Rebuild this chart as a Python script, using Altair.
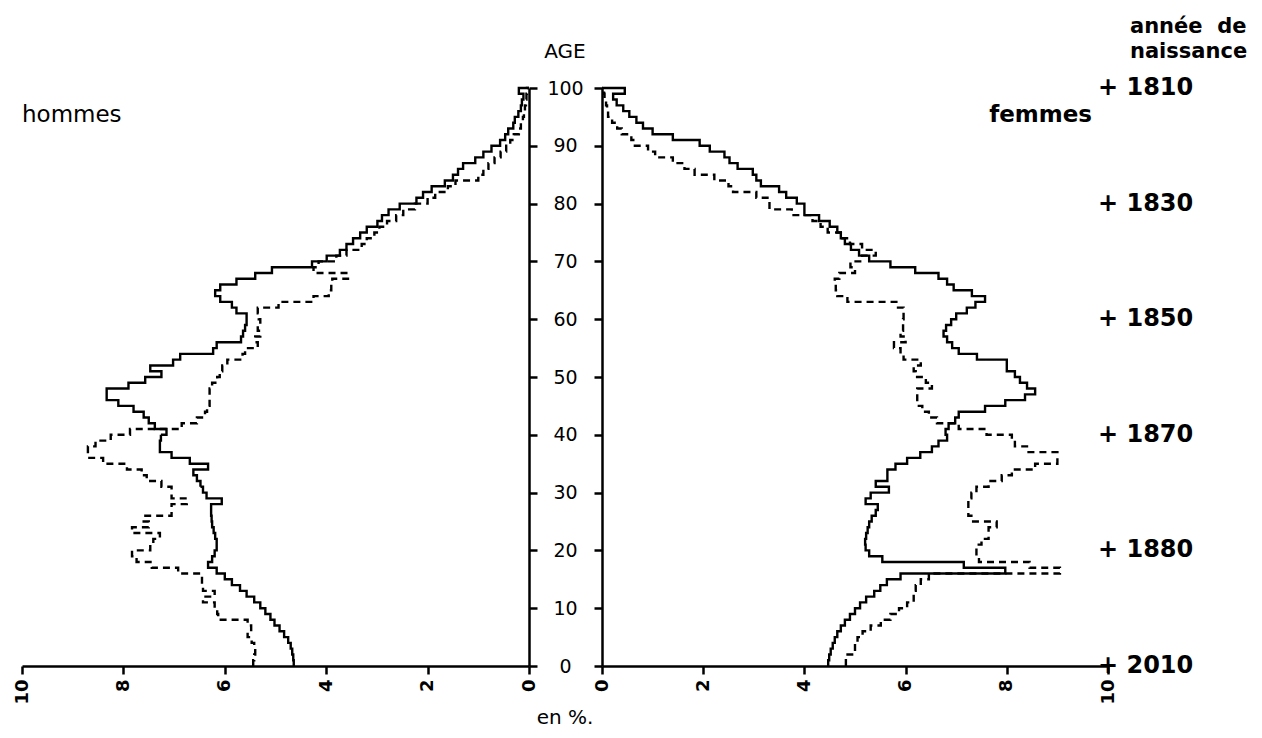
import altair as alt
import pandas as pd

# ---------------- data ----------------
ages = list(range(0, 101))

hommes_trait = [4.64, 4.65, 4.67, 4.70, 4.75, 4.83, 4.92, 5.02, 5.10, 5.20,
                5.30, 5.42, 5.57, 5.70, 5.86, 6.00, 6.16, 6.33, 6.25, 6.20,
                6.16, 6.16, 6.19, 6.22, 6.25, 6.26, 6.27, 6.27, 6.06, 6.36,
                6.43, 6.48, 6.55, 6.62, 6.33, 6.69, 7.05, 7.28, 7.28, 7.26,
                7.15, 7.38, 7.50, 7.60, 7.80, 8.10, 8.33, 8.33, 7.90, 7.57,
                7.25, 7.47, 7.02, 6.88, 6.23, 6.16, 5.68, 5.64, 5.60, 5.57,
                5.57, 5.77, 5.86, 6.09, 6.19, 6.09, 5.77, 5.40, 5.07, 4.28,
                3.99, 3.73, 3.60, 3.47, 3.33, 3.20, 2.99, 2.90, 2.77, 2.55,
                2.22, 2.09, 1.92, 1.66, 1.50, 1.40, 1.30, 1.06, 0.90, 0.74,
                0.57, 0.47, 0.41, 0.31, 0.28, 0.21, 0.16, 0.14, 0.11, 0.20, 0.0]

hommes_tirets = [5.44, 5.42, 5.40, 5.42, 5.47, 5.55, 5.48, 5.55, 6.13, 6.15,
                 6.20, 6.43, 6.20, 6.43, 6.45, 6.45, 6.92, 7.44, 7.74, 7.83,
                 7.47, 7.41, 7.28, 7.83, 7.50, 7.60, 7.05, 7.05, 6.75, 7.05,
                 7.05, 7.25, 7.54, 7.64, 7.93, 8.40, 8.70, 8.70, 8.55, 8.25,
                 7.87, 6.85, 6.55, 6.39, 6.35, 6.30, 6.30, 6.30, 6.25, 6.15,
                 6.10, 6.05, 5.95, 5.65, 5.60, 5.35, 5.40, 5.30, 5.35, 5.30,
                 5.33, 5.35, 4.94, 4.25, 3.95, 3.90, 3.88, 3.57, 4.25, 4.15,
                 3.80, 3.60, 3.30, 3.20, 3.05, 2.95, 2.80, 2.62, 2.48, 2.25,
                 2.00, 1.85, 1.60, 1.45, 1.00, 0.90, 0.80, 0.68, 0.56, 0.45,
                 0.37, 0.30, 0.20, 0.16, 0.12, 0.10, 0.08, 0.06, 0.05, 0.04, 0.0]

femmes_trait = [4.47, 4.49, 4.52, 4.56, 4.60, 4.65, 4.72, 4.80, 4.90, 5.00,
                5.10, 5.22, 5.38, 5.50, 5.63, 5.90, 7.97, 7.15, 5.54, 5.28,
                5.21, 5.20, 5.22, 5.25, 5.28, 5.33, 5.41, 5.45, 5.21, 5.31,
                5.67, 5.41, 5.64, 5.64, 5.80, 6.03, 6.29, 6.52, 6.65, 6.82,
                6.79, 6.85, 6.98, 7.05, 7.57, 7.97, 8.36, 8.56, 8.40, 8.26,
                8.16, 8.00, 8.00, 7.41, 7.05, 6.92, 6.82, 6.75, 6.80, 6.90,
                7.00, 7.21, 7.38, 7.57, 7.31, 6.95, 6.82, 6.65, 6.19, 5.70,
                5.28, 5.08, 4.92, 4.80, 4.72, 4.65, 4.50, 4.29, 4.00, 4.00,
                3.85, 3.64, 3.50, 3.14, 3.05, 2.98, 2.68, 2.52, 2.42, 2.13,
                1.93, 1.40, 1.00, 0.81, 0.68, 0.54, 0.42, 0.29, 0.22, 0.45, 0.0]

femmes_tirets = [4.82, 4.82, 5.00, 5.00, 5.05, 5.15, 5.31, 5.51, 5.70, 5.87,
                 6.03, 6.16, 6.16, 6.20, 6.30, 6.46, 9.05, 8.45, 7.45, 7.40,
                 7.40, 7.50, 7.64, 7.64, 7.80, 7.30, 7.24, 7.24, 7.24, 7.30,
                 7.40, 7.64, 7.90, 8.10, 8.56, 9.00, 9.00, 8.43, 8.16, 8.10,
                 7.60, 7.05, 6.62, 6.46, 6.33, 6.23, 6.23, 6.23, 6.52, 6.40,
                 6.20, 6.16, 6.30, 5.96, 5.90, 5.77, 6.00, 5.90, 5.95, 5.95,
                 5.96, 5.96, 5.85, 4.85, 4.65, 4.62, 4.60, 4.69, 5.00, 4.91,
                 5.14, 5.41, 5.14, 4.90, 4.72, 4.46, 4.32, 4.16, 3.75, 3.31,
                 3.31, 3.05, 2.59, 2.50, 2.22, 1.83, 1.63, 1.40, 1.05, 0.91,
                 0.65, 0.58, 0.39, 0.30, 0.20, 0.12, 0.10, 0.08, 0.05, 0.04, 0.0]

pct_ticks = [0, 2, 4, 6, 8, 10]
age_ticks = [0, 10, 20, 30, 40, 50, 60, 70, 80, 90, 100]
annee_labels = ["+ 1810", "+ 1830", "+ 1850", "+ 1870", "+ 1880", "+ 2010"]
annee_ages = [100, 80, 60, 40, 20, 0]
series = ["trait", "tirets"]

# ---------------- tables ----------------
men = pd.DataFrame({"age": ages * 2, "pct": hommes_trait + hommes_tirets,
                    "serie": [series[0]] * 101 + [series[1]] * 101})
women = pd.DataFrame({"age": ages * 2, "pct": femmes_trait + femmes_tirets,
                      "serie": [series[0]] * 101 + [series[1]] * 101})
years = pd.DataFrame({"age": annee_ages, "label": annee_labels})

# ---------------- layout ----------------
W, H = 1086, 578
MEN_ZERO = 507
WOMEN_ZERO = 580
FONT = "DejaVu Sans"

y_scale = alt.Scale(domain=[0, 100], nice=False)
men_x = alt.Scale(domain=[0, 10], range=[MEN_ZERO, 0], nice=False)
women_x = alt.Scale(domain=[0, 10], range=[WOMEN_ZERO, W], nice=False)
dash_scale = alt.Scale(domain=series, range=[[1, 0], [7, 5]])

x_axis = dict(orient="bottom", values=pct_ticks, format="d", labelAngle=270,
              labelFontSize=18, labelFont=FONT, labelFontWeight="bold",
              labelColor="black", labelPadding=5, labelFlush=False,
              labelOverlap=False, tickSize=8, tickWidth=2.5, tickColor="black",
              domainWidth=2.5, domainColor="black", grid=False, title=None)

men_y_axis = alt.Axis(orient="right", offset=-(W - MEN_ZERO), values=age_ticks,
                      format="d", tickSize=8, tickWidth=2.5, tickColor="black",
                      domainWidth=2.5, domainColor="black",
                      labelAlign="center", labelBaseline="middle", labelPadding=28,
                      labelFontSize=19, labelFont=FONT, labelColor="black",
                      labelFlush=False, grid=False, title=None)
women_y_axis = alt.Axis(orient="left", offset=-WOMEN_ZERO, values=age_ticks,
                        tickSize=8, tickWidth=2.5, tickColor="black",
                        domainWidth=2.5, domainColor="black", labels=False,
                        grid=False, title=None)

men_layer = alt.Chart(men).mark_line(interpolate="step-before", color="black",
                                     strokeWidth=2.4).encode(
    x=alt.X("pct:Q", scale=men_x, axis=alt.Axis(**x_axis)),
    y=alt.Y("age:Q", scale=y_scale, axis=men_y_axis),
    strokeDash=alt.StrokeDash("serie:N", scale=dash_scale, legend=None),
    order=alt.Order("age:Q"),
)

women_lines = alt.Chart(women).mark_line(interpolate="step-before", color="black",
                                         strokeWidth=2.4).encode(
    x=alt.X("pct:Q", scale=women_x, axis=alt.Axis(**x_axis)),
    y=alt.Y("age:Q", scale=y_scale, axis=women_y_axis),
    strokeDash=alt.StrokeDash("serie:N", scale=dash_scale, legend=None),
    order=alt.Order("age:Q"),
)

year_text = alt.Chart(years).mark_text(align="left", baseline="middle", dx=-10,
                                       font=FONT, fontSize=24, fontWeight="bold",
                                       color="black").encode(
    x=alt.datum(10),
    y=alt.Y("age:Q", scale=y_scale, axis=women_y_axis),
    text="label:N",
)

women_layer = alt.layer(women_lines, year_text)


def label(txt, x, y, align="center", size=20, weight="normal"):
    return alt.Chart(pd.DataFrame({"t": [txt]})).mark_text(
        x=x, y=y, align=align, baseline="middle", font=FONT, fontSize=size,
        fontWeight=weight, color="black").encode(text="t:N")


titles = alt.layer(
    label("hommes", 0, 27, "left", 23),
    label("femmes", 1070, 27, "right", 23, "bold"),
    label("AGE", 543, -36, "center", 20),
    label("en %.", 543, 630, "center", 20),
    label("année\u00a0\u00a0de", 1108, -61, "left", 21, "bold"),
    label("naissance", 1108, -36, "left", 21, "bold"),
)

chart = alt.layer(men_layer, women_layer, titles).resolve_scale(
    x="independent", strokeDash="shared"
).resolve_axis(
    x="independent", y="independent"
).properties(
    width=W, height=H,
    autosize=alt.AutoSizeParams(type="none"),
    padding={"left": 14, "top": 80, "right": 146, "bottom": 64},
).configure_view(stroke=None)

chart.save("out.html", embed_options={"renderer": "svg", "actions": False})
